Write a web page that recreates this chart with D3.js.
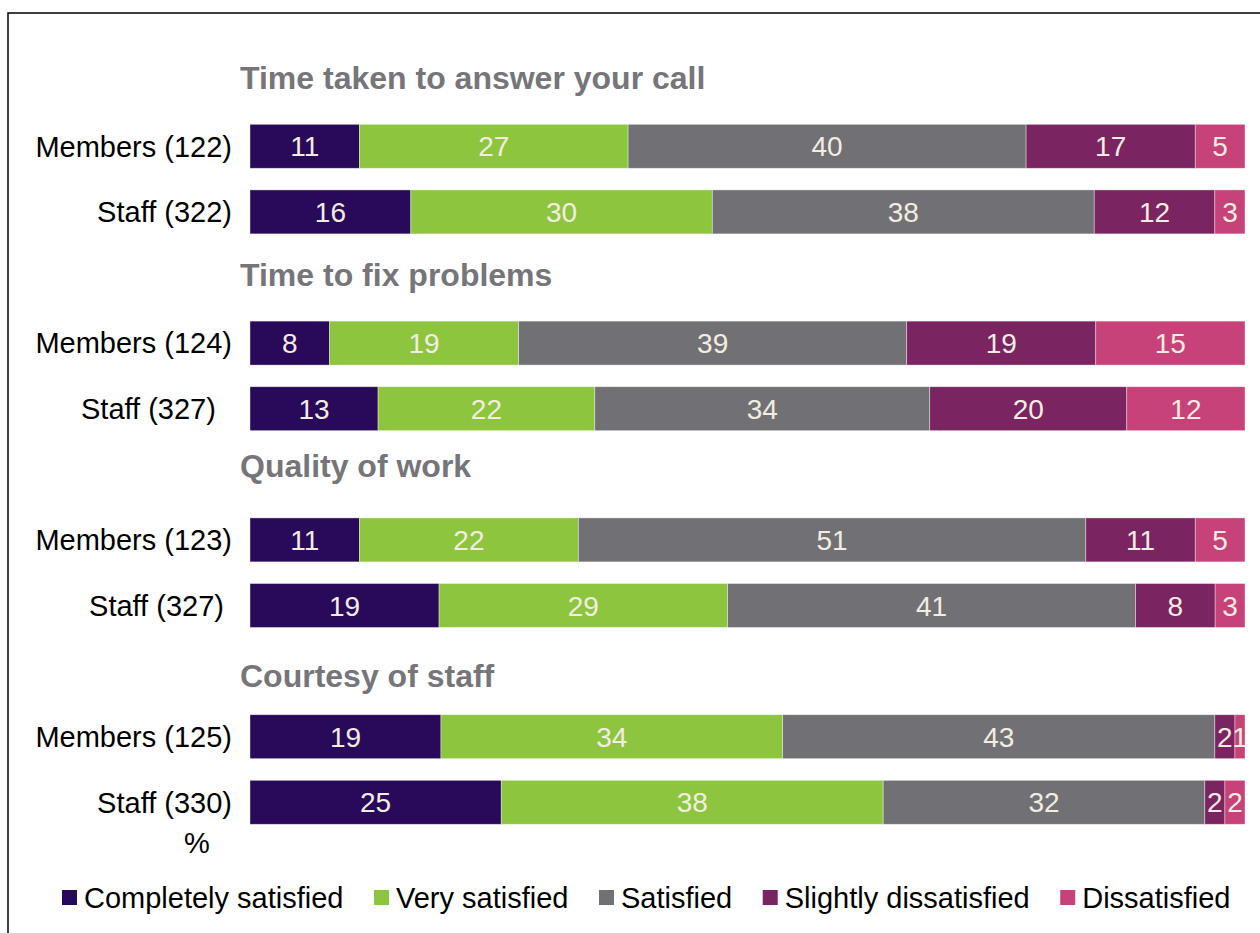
<!DOCTYPE html>
<html>
<head>
<meta charset="utf-8">
<script src="https://cdn.jsdelivr.net/npm/d3@7"></script>
<style>
  body { margin: 0; background: #fff; }
  svg { display: block; font-family: 'Liberation Sans', Arial, sans-serif; }
</style>
</head>
<body>
<svg width="1260" height="933"></svg>
<script>
const groups = ['Time taken to answer your call', 'Time to fix problems', 'Quality of work', 'Courtesy of staff']
const rowLabels = ['Members (122)', 'Staff (322)', 'Members (124)', 'Staff (327)\u00a0\u00a0',
  'Members (123)', 'Staff (327)\u00a0', 'Members (125)', 'Staff (330)']
const categories = ['Completely satisfied', 'Very satisfied', 'Satisfied', 'Slightly dissatisfied', 'Dissatisfied']
const completely = [11, 16, 8, 13, 11, 19, 19, 25]
const very = [27, 30, 19, 22, 22, 29, 34, 38]
const satisfied = [40, 38, 39, 34, 51, 41, 43, 32]
const slightly = [17, 12, 19, 20, 11, 8, 2, 2]
const dissatisfied = [5, 3, 15, 12, 5, 3, 1, 2]
const colors = ['#29095a', '#8dc53e', '#717175', '#7b2462', '#c8427a']

const svg = d3.select('svg')

const BAR_LEFT = 250
const BAR_RIGHT = 1245
const TOP = 47.9
const BOTTOM = 835.1
// the title boxes were placed by hand in the original, not exactly on the slots
const TITLE_NUDGE = [0, 0, -5, 8]

// one slot per group title followed by its two rows
const slots = []
groups.forEach((g, i) => {
  slots.push('title' + i)
  slots.push('row' + (i * 2))
  slots.push('row' + (i * 2 + 1))
})

const series = [completely, very, satisfied, slightly, dissatisfied]
const table = rowLabels.map((label, i) => {
  const row = { slot: 'row' + i, label }
  categories.forEach((c, k) => row[c] = series[k][i])
  return row
})

const yScale = d3.scaleBand()
  .domain(slots)
  .range([TOP, BOTTOM])
  .paddingInner(0.33)
  .paddingOuter(0.165)

const xScale = d3.scaleLinear()
  .domain([0, 1])
  .range([BAR_LEFT, BAR_RIGHT])

const stacked = d3.stack()
  .keys(categories)
  .offset(d3.stackOffsetExpand)(table)

// frame
svg.append('rect')
  .attr('x', 8)
  .attr('y', 13)
  .attr('width', 1400)
  .attr('height', 1200)
  .attr('fill', 'none')
  .attr('stroke', '#000')
  .attr('stroke-width', 1.5)

// group titles
svg.selectAll('.group-title')
  .data(groups)
  .enter()
  .append('text')
  .attr('class', 'group-title')
  .attr('x', 240)
  .attr('y', (d, i) => yScale('title' + i) + yScale.bandwidth() / 2 + 8 + TITLE_NUDGE[i])
  .attr('font-size', 32)
  .attr('font-weight', 'bold')
  .attr('fill', '#75757a')
  .text(d => d)

// row labels
svg.selectAll('.row-label')
  .data(table)
  .enter()
  .append('text')
  .attr('class', 'row-label')
  .attr('x', 232)
  .attr('y', d => yScale(d.slot) + yScale.bandwidth() / 2 + 10.2)
  .attr('text-anchor', 'end')
  .attr('font-size', 29)
  .attr('fill', '#000')
  .text(d => d.label)

svg.append('text')
  .attr('x', 197)
  .attr('y', 853)
  .attr('text-anchor', 'middle')
  .attr('font-size', 29)
  .attr('fill', '#000')
  .text('%')

// bars
const layers = svg.selectAll('.layer')
  .data(stacked)
  .enter()
  .append('g')
  .attr('class', 'layer')
  .attr('fill', (d, i) => colors[i])

layers.selectAll('rect')
  .data(d => d)
  .enter()
  .append('rect')
  .attr('x', d => xScale(d[0]))
  .attr('y', d => yScale(d.data.slot))
  .attr('width', d => xScale(d[1]) - xScale(d[0]))
  .attr('height', yScale.bandwidth())
  .attr('stroke', '#ffffff')
  .attr('stroke-opacity', 0.5)
  .attr('stroke-width', 0.75)

layers.each(function (layer) {
  d3.select(this).selectAll('text')
    .data(layer)
    .enter()
    .append('text')
    .attr('x', d => (xScale(d[0]) + xScale(d[1])) / 2)
    .attr('y', d => yScale(d.data.slot) + yScale.bandwidth() / 2 + 10)
    .attr('text-anchor', 'middle')
    .attr('font-size', 28)
    .attr('fill', '#f2ede0')
    .text(d => d.data[layer.key])
})

// legend
const legend = svg.append('g').attr('class', 'legend')
let lx = 62
categories.forEach((c, i) => {
  legend.append('rect')
    .attr('x', lx)
    .attr('y', 890)
    .attr('width', 15)
    .attr('height', 15)
    .attr('fill', colors[i])
  const t = legend.append('text')
    .attr('x', lx + 22)
    .attr('y', 908)
    .attr('font-size', 29)
    .attr('fill', '#000')
    .text(c)
  lx += 22 + t.node().getComputedTextLength() + 30.5
})
</script>
</body>
</html>
